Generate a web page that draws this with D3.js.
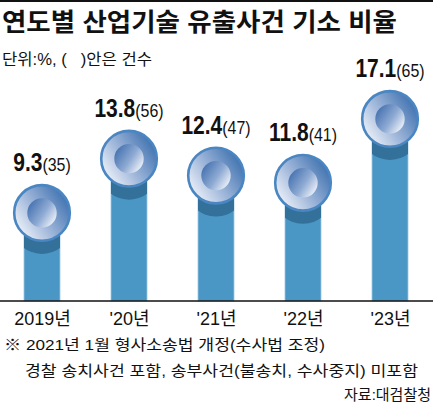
<!DOCTYPE html>
<html><head><meta charset="utf-8">
<script src="https://cdn.jsdelivr.net/npm/d3@7"></script>
<style>
html,body{margin:0;padding:0;background:#fff;}
svg{display:block;}
text{font-family:"Liberation Sans","Noto Sans CJK KR",sans-serif;fill:#111;}
</style></head>
<body>
<svg id="chart" width="433" height="406"></svg>
<script>
const title = "연도별 산업기술 유출사건 기소 비율";
const subtitle = "단위:%, (   )안은 건수";
const categories = ["2019년", "'20년", "'21년", "'22년", "'23년"];
const rates = [9.3, 13.8, 12.4, 11.8, 17.1];
const counts = [35, 56, 47, 41, 65];
const notes = ["※ 2021년 1월 형사소송법 개정(수사법 조정)", "경찰 송치사건 포함, 송부사건(불송치, 수사중지) 미포함"];
const source = "자료:대검찰청";

const svg = d3.select("#chart");
const W = 433, baseY = 301;

const x = d3.scalePoint().domain(categories).range([42, 390]);
const y = d3.scaleLinear().domain([0, 20]).range([325, 84]);
const barW = 36, R = 29, r = 14.7;

const defs = svg.append("defs");
const go = defs.append("linearGradient").attr("id","gOuter")
  .attr("x1","0.05").attr("y1","0.8").attr("x2","0.95").attr("y2","0.2");
go.append("stop").attr("offset","0").attr("stop-color","#eef2f9");
go.append("stop").attr("offset","0.45").attr("stop-color","#9db5d9");
go.append("stop").attr("offset","1").attr("stop-color","#3d70ae");
const gi = defs.append("linearGradient").attr("id","gInner")
  .attr("x1","0.05").attr("y1","0.2").attr("x2","0.95").attr("y2","0.8");
gi.append("stop").attr("offset","0").attr("stop-color","#4672b0");
gi.append("stop").attr("offset","0.55").attr("stop-color","#8eaad3");
gi.append("stop").attr("offset","1").attr("stop-color","#eef2f9");

// top rule
svg.append("line").attr("x1",0).attr("x2",W).attr("y1",1).attr("y2",1)
  .attr("stroke","#111").attr("stroke-width",2);

svg.append("text").attr("x",2).attr("y",31).attr("font-size",25).attr("font-weight","bold")
  .attr("textLength",395).attr("lengthAdjust","spacingAndGlyphs").text(title);
svg.append("text").attr("x",2).attr("y",65).attr("font-size",16)
  .style("white-space","pre").attr("xml:space","preserve")
  .attr("textLength",150).attr("lengthAdjust","spacingAndGlyphs").text(subtitle);

const data = categories.map((c,i)=>({c, v:rates[i], n:counts[i], i}));

data.forEach(d=>{
  defs.append("clipPath").attr("id","clip"+d.i).append("rect")
    .attr("x", x(d.c)-barW/2).attr("y", y(d.v)).attr("width", barW).attr("height", baseY - y(d.v));
});

const g = svg.append("g");
const bars = g.selectAll("g.bar").data(data).join("g").attr("class","bar");
bars.append("rect")
  .attr("x", d=>x(d.c)-barW/2).attr("y", d=>y(d.v))
  .attr("width", barW).attr("height", d=>baseY - y(d.v))
  .attr("fill","#4a96c4").attr("stroke","#9cc8e6").attr("stroke-width",0.8);
bars.append("ellipse")
  .attr("clip-path", d=>"url(#clip"+d.i+")")
  .attr("cx", d=>x(d.c)).attr("cy", d=>y(d.v)+13)
  .attr("rx", R).attr("ry", 28).attr("fill","#33709a");
bars.append("circle")
  .attr("cx", d=>x(d.c)).attr("cy", d=>y(d.v)).attr("r", R-1.2)
  .attr("fill","url(#gOuter)").attr("stroke","#4a86c2").attr("stroke-width",2.6);
bars.append("circle")
  .attr("cx", d=>x(d.c)).attr("cy", d=>y(d.v)).attr("r", r)
  .attr("fill","url(#gInner)");

const lab = bars.append("text")
  .attr("transform", d=>`translate(${x(d.c)},${y(d.v)-42}) scale(0.84,1)`)
  .attr("text-anchor","middle");
lab.append("tspan").attr("font-size",25).attr("font-weight","bold").text(d=>d.v.toFixed(1));
lab.append("tspan").attr("font-size",19).text(d=>"("+d.n+")");

const xAxis = d3.axisBottom(x).tickSize(0).tickPadding(0);
const ax = svg.append("g").attr("transform",`translate(0,${baseY})`).call(xAxis);
ax.select(".domain").remove();
ax.selectAll("text").attr("font-size",18).attr("dy",null).attr("y",24)
  .attr("font-family",'"Liberation Sans","Noto Sans CJK KR",sans-serif').attr("fill","#111");
svg.append("line").attr("x1",0).attr("x2",W).attr("y1",baseY).attr("y2",baseY)
  .attr("stroke","#111").attr("stroke-width",1.5);

svg.append("text").attr("x",4).attr("y",350).attr("font-size",15)
  .attr("textLength",321).attr("lengthAdjust","spacingAndGlyphs").text(notes[0]);
svg.append("text").attr("x",25).attr("y",376).attr("font-size",15)
  .attr("textLength",393).attr("lengthAdjust","spacingAndGlyphs").text(notes[1]);
svg.append("text").attr("x",431).attr("y",400).attr("font-size",15).attr("text-anchor","end")
  .text(source);
</script>
</body></html>
